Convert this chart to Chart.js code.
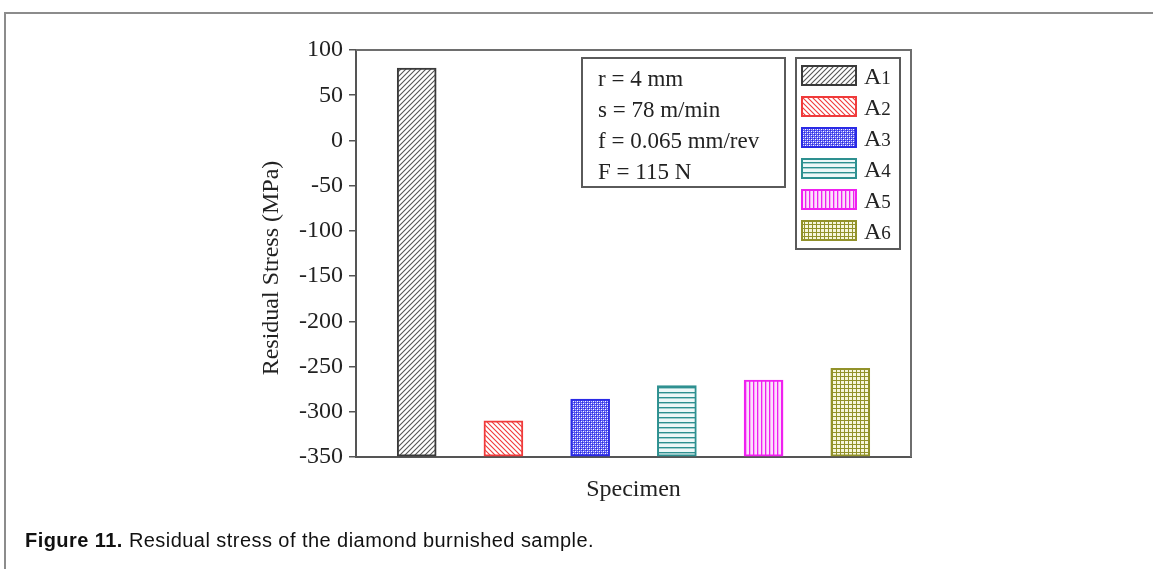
<!DOCTYPE html>
<html>
<head>
<meta charset="utf-8">
<script src="https://cdn.jsdelivr.net/npm/chart.js@4.4.1/dist/chart.umd.min.js"></script>
<style>
  html, body { margin: 0; padding: 0; background: #fff; overflow: hidden; }
  #wrap { position: relative; width: 1153px; height: 569px; }
  #frame { position: absolute; left: 4px; top: 12px; width: 1160px; height: 570px;
           border-top: 2px solid #8c8c8c; border-left: 2px solid #8c8c8c; box-sizing: border-box; }
  #chart { position: absolute; left: 0; top: 0; }
  #caption { position: absolute; left: 25px; top: 529px; font-family: "Liberation Sans", Arial, sans-serif;
             font-size: 20px; letter-spacing: 0.45px; color: #111; white-space: nowrap; }
  #caption b { font-weight: bold; }
</style>
</head>
<body>
<div id="wrap">
  <div id="frame"></div>
  <canvas id="chart" width="1153" height="569"></canvas>
  <div id="caption"><b>Figure 11.</b> Residual stress of the diamond burnished sample.</div>
</div>
<script>
// ---- data ----
const specimens = ['A1', 'A2', 'A3', 'A4', 'A5', 'A6'];
const residualStress = [80, -310, -286, -271, -265, -252];
const specimenPositions = [1, 2, 3, 4, 5, 6];
const yMin = -350, yMax = 100, yStep = 50;
const infoLines = ['r = 4 mm', 's = 78 m/min', 'f = 0.065 mm/rev', 'F = 115 N'];
const yTitle = 'Residual Stress (MPa)';
const xTitle = 'Specimen';

// ---- styles ----
const seriesColors = ['#3a3a3a', '#f03a3a', '#2a2ae6', '#2e9090', '#f020f0', '#92922a'];
const patternKinds = ['diagUp', 'diagDown', 'dots', 'horiz', 'vert', 'grid'];
const SERIF = '"Liberation Serif", "Times New Roman", serif';

function makePattern(kind, color) {
  const c = document.createElement('canvas');
  let s = 4;
  if (kind === 'horiz') s = 5;
  if (kind === 'diagDown') s = 5;
  if (kind === 'diagUp') s = 5;
  c.width = s; c.height = s;
  const g = c.getContext('2d');
  g.fillStyle = '#fff';
  g.fillRect(0, 0, s, s);
  g.strokeStyle = color; g.fillStyle = color;
  g.lineWidth = 1.1;
  if (kind === 'diagUp') {
    g.strokeStyle = '#555';
    g.beginPath();
    g.moveTo(-1, s + 1); g.lineTo(s + 1, -1);
    g.moveTo(-1, 1); g.lineTo(1, -1);
    g.moveTo(s - 1, s + 1); g.lineTo(s + 1, s - 1);
    g.stroke();
  } else if (kind === 'diagDown') {
    g.beginPath();
    g.moveTo(-1, -1); g.lineTo(s + 1, s + 1);
    g.moveTo(s - 1, -1); g.lineTo(s + 1, 1);
    g.moveTo(-1, s - 1); g.lineTo(1, s + 1);
    g.stroke();
  } else if (kind === 'dots') {
    g.fillStyle = '#5a5af0';
    g.fillRect(0, 0, s, s);
    g.fillStyle = '#2a2ae0';
    g.fillRect(0, 0, 1, 1);
    g.fillRect(2, 2, 1, 1);
    g.fillStyle = '#ffffff';
    g.fillRect(1, 1, 1, 1);
    g.fillRect(3, 3, 1, 1);
    g.fillStyle = '#c8c8fa';
    g.fillRect(3, 1, 1, 1);
    g.fillRect(1, 3, 1, 1);
  } else if (kind === 'horiz') {
    g.fillStyle = '#eef8f8';
    g.fillRect(0, 0, s, s);
    g.fillStyle = color;
    g.fillRect(0, 2, s, 1.4);
  } else if (kind === 'vert') {
    g.fillStyle = '#fbe0fb';
    g.fillRect(0, 0, s, s);
    g.fillStyle = color;
    g.fillRect(1, 0, 1.3, s);
  } else if (kind === 'grid') {
    g.fillRect(0, 0, s, s);
    g.fillStyle = '#f6f6dc';
    g.fillRect(1, 1, 3, 3);
  }
  const ctx = document.createElement('canvas').getContext('2d');
  return ctx.createPattern(c, 'repeat');
}
const patterns = patternKinds.map((k, i) => makePattern(k, seriesColors[i]));

const decorPlugin = {
  id: 'decor',
  afterDraw(chart) {
    const ctx = chart.ctx;
    const a = chart.chartArea;
    ctx.save();
    // frame top and right
    ctx.strokeStyle = '#6e6e6e';
    ctx.lineWidth = 2;
    ctx.beginPath();
    ctx.moveTo(a.left, a.top); ctx.lineTo(a.right, a.top); ctx.lineTo(a.right, a.bottom);
    ctx.stroke();

    // axis titles
    ctx.fillStyle = '#222';
    ctx.font = '24px ' + SERIF;
    ctx.textAlign = 'center';
    ctx.textBaseline = 'middle';
    ctx.save();
    ctx.translate(272, 268);
    ctx.rotate(-Math.PI / 2);
    ctx.fillText(yTitle, 0, 0);
    ctx.restore();
    ctx.fillText(xTitle, (a.left + a.right) / 2, 490);

    // info box
    ctx.strokeStyle = '#5a5a5a';
    ctx.lineWidth = 2;
    ctx.strokeRect(582, 58, 203, 129);
    ctx.textAlign = 'left';
    ctx.font = '23px ' + SERIF;
    infoLines.forEach((t, i) => ctx.fillText(t, 598, 80 + 31 * i));

    // legend
    ctx.strokeRect(796, 58, 104, 191);
    specimens.forEach((lab, i) => {
      const y = 65 + 31 * i;
      ctx.fillStyle = patterns[i];
      ctx.fillRect(801, y, 56, 21);
      ctx.strokeStyle = seriesColors[i];
      ctx.lineWidth = 2;
      ctx.strokeRect(802, y + 1, 54, 19);
      ctx.fillStyle = '#222';
      ctx.textBaseline = 'alphabetic';
      ctx.font = '24px ' + SERIF;
      const base = y + 19;
      ctx.fillText(lab[0], 864, base);
      const w = ctx.measureText(lab[0]).width;
      ctx.font = '19px ' + SERIF;
      ctx.fillText(lab.slice(1), 864 + w, base);
      ctx.textBaseline = 'middle';
    });
    ctx.restore();
  }
};

const chart = new Chart(document.getElementById('chart'), {
  type: 'bar',
  data: {
    datasets: [{
      data: specimenPositions.map((x, i) => ({ x: x, y: residualStress[i] })),
      backgroundColor: patterns,
      borderColor: seriesColors,
      borderWidth: 2,
      borderSkipped: false,
      barThickness: 39,
      base: yMin
    }]
  },
  options: {
    responsive: false,
    animation: false,
    devicePixelRatio: 1,
    layout: { padding: { left: 0, top: 50, right: 242, bottom: 0 } },
    plugins: { legend: { display: false }, tooltip: { enabled: false } },
    scales: {
      x: {
        type: 'linear',
        offset: false,
        min: 0.3, max: 6.7,
        ticks: { display: false },
        grid: { display: false, offset: false },
        border: { display: true, color: '#555', width: 2 },
        afterFit(scale) { scale.height = 112; }
      },
      y: {
        type: 'linear',
        min: yMin, max: yMax,
        ticks: { stepSize: yStep, color: '#222', padding: 6, font: { family: SERIF, size: 24 } },
        grid: { drawOnChartArea: false, drawTicks: true, tickLength: 7, color: '#555', lineWidth: 1.5 },
        border: { display: true, color: '#555', width: 2 },
        afterFit(scale) { scale.width = 356; }
      }
    }
  },
  plugins: [decorPlugin]
});
</script>
</body>
</html>
